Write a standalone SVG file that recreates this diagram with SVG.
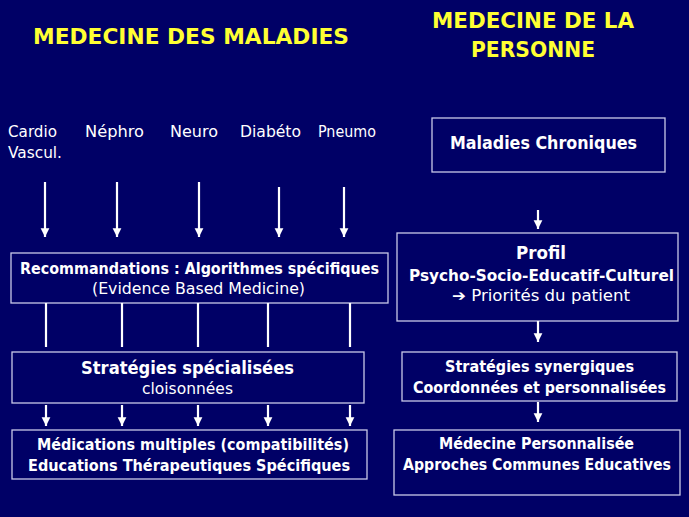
<svg xmlns="http://www.w3.org/2000/svg" width="689" height="517" viewBox="0 0 689 517">
<style>
.bg{fill:#000066}
.box{fill:none;stroke:#c8c8e8;stroke-width:1.3}
.t{font-family:"DejaVu Sans","Liberation Sans",sans-serif;fill:#ffffff;font-size:15px}
.b{font-weight:bold}
.title{font-family:"DejaVu Sans","Liberation Sans",sans-serif;fill:#ffff33;font-size:21px;font-weight:bold}
.c{stroke:#ffffff;stroke-width:2.2;fill:none}
</style>
<defs>
<marker id="ah" viewBox="0 0 10 10" refX="10" refY="5" markerWidth="4" markerHeight="4.5" markerUnits="strokeWidth" orient="auto">
<path d="M0,0 L10,5 L0,10 z" fill="#ffffff"/>
</marker>
</defs>
<rect class="bg" x="0" y="0" width="689" height="517"/>
<g id="titles">
<text class="title" x="33" y="44" textLength="316" lengthAdjust="spacingAndGlyphs">MEDECINE DES MALADIES</text>
<text class="title" x="432" y="28" textLength="202" lengthAdjust="spacingAndGlyphs">MEDECINE DE LA</text>
<text class="title" x="471" y="57" textLength="124" lengthAdjust="spacingAndGlyphs">PERSONNE</text>
</g>
<g id="specialties">
<text class="t" x="8" y="137" textLength="49" lengthAdjust="spacingAndGlyphs">Cardio</text>
<text class="t" x="8" y="158" textLength="54" lengthAdjust="spacingAndGlyphs">Vascul.</text>
<text class="t" x="85" y="137" textLength="59" lengthAdjust="spacingAndGlyphs">Néphro</text>
<text class="t" x="170" y="137" textLength="48" lengthAdjust="spacingAndGlyphs">Neuro</text>
<text class="t" x="240" y="137" textLength="61" lengthAdjust="spacingAndGlyphs">Diabéto</text>
<text class="t" x="318" y="137" textLength="58" lengthAdjust="spacingAndGlyphs">Pneumo</text>
</g>
<g id="recommandations">
<rect class="box" x="11" y="253" width="377" height="50"/>
<text class="t b" x="20" y="274" textLength="359" lengthAdjust="spacingAndGlyphs">Recommandations : Algorithmes spécifiques</text>
<text class="t" x="92" y="294" textLength="213" lengthAdjust="spacingAndGlyphs">(Evidence Based Medicine)</text>
</g>
<g id="strategies-specialisees">
<rect class="box" x="12" y="352" width="352" height="51"/>
<text class="t b" x="81" y="374" textLength="213" lengthAdjust="spacingAndGlyphs" style="font-size:17px">Stratégies spécialisées</text>
<text class="t" x="142" y="394" textLength="91" lengthAdjust="spacingAndGlyphs">cloisonnées</text>
</g>
<g id="medications">
<rect class="box" x="12" y="430" width="355" height="49"/>
<text class="t b" x="37" y="450" textLength="312" lengthAdjust="spacingAndGlyphs">Médications multiples (compatibilités)</text>
<text class="t b" x="28" y="471" textLength="322" lengthAdjust="spacingAndGlyphs">Educations Thérapeutiques Spécifiques</text>
</g>
<g id="maladies-chroniques">
<rect class="box" x="432" y="118" width="233" height="54"/>
<text class="t b" x="450" y="149" textLength="187" lengthAdjust="spacingAndGlyphs" style="font-size:17px">Maladies Chroniques</text>
</g>
<g id="profil">
<rect class="box" x="397" y="233" width="281" height="88"/>
<text class="t b" x="516" y="259" textLength="50" lengthAdjust="spacingAndGlyphs" style="font-size:18px">Profil</text>
<text class="t b" x="409" y="281" textLength="265" lengthAdjust="spacingAndGlyphs">Psycho-Socio-Educatif-Culturel</text>
<text class="t" x="452" y="301" textLength="178" lengthAdjust="spacingAndGlyphs">➔ Priorités du patient</text>
</g>
<g id="strategies-synergiques">
<rect class="box" x="402" y="352" width="275" height="49"/>
<text class="t b" x="445" y="372" textLength="189" lengthAdjust="spacingAndGlyphs">Stratégies synergiques</text>
<text class="t b" x="413" y="393" textLength="253" lengthAdjust="spacingAndGlyphs">Coordonnées et personnalisées</text>
</g>
<g id="medecine-personnalisee">
<rect class="box" x="394" y="430" width="286" height="65"/>
<text class="t b" x="439" y="449" textLength="195" lengthAdjust="spacingAndGlyphs">Médecine Personnalisée</text>
<text class="t b" x="403" y="470" textLength="268" lengthAdjust="spacingAndGlyphs">Approches Communes Educatives</text>
</g>
<g id="connectors">
<line class="c" x1="45" y1="182" x2="45" y2="237" marker-end="url(#ah)"/>
<line class="c" x1="117" y1="182" x2="117" y2="237" marker-end="url(#ah)"/>
<line class="c" x1="199" y1="182" x2="199" y2="237" marker-end="url(#ah)"/>
<line class="c" x1="279" y1="187" x2="279" y2="237" marker-end="url(#ah)"/>
<line class="c" x1="344" y1="187" x2="344" y2="237" marker-end="url(#ah)"/>
<line class="c" x1="46" y1="303" x2="46" y2="347"/>
<line class="c" x1="122" y1="303" x2="122" y2="347"/>
<line class="c" x1="198" y1="303" x2="198" y2="347"/>
<line class="c" x1="268" y1="303" x2="268" y2="347"/>
<line class="c" x1="350" y1="303" x2="350" y2="347"/>
<line class="c" x1="46" y1="405" x2="46" y2="426" marker-end="url(#ah)"/>
<line class="c" x1="122" y1="405" x2="122" y2="426" marker-end="url(#ah)"/>
<line class="c" x1="198" y1="405" x2="198" y2="426" marker-end="url(#ah)"/>
<line class="c" x1="268" y1="405" x2="268" y2="426" marker-end="url(#ah)"/>
<line class="c" x1="350" y1="405" x2="350" y2="426" marker-end="url(#ah)"/>
<line class="c" x1="538" y1="210" x2="538" y2="229" marker-end="url(#ah)"/>
<line class="c" x1="538" y1="321" x2="538" y2="342" marker-end="url(#ah)"/>
<line class="c" x1="538" y1="402" x2="538" y2="422" marker-end="url(#ah)"/>
</g>
</svg>
